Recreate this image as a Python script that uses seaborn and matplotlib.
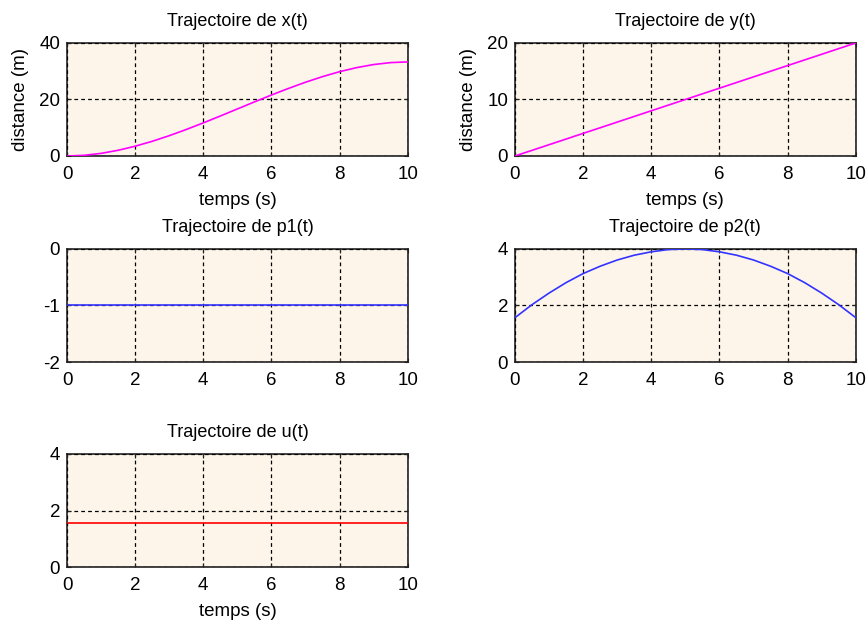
import matplotlib
matplotlib.use("Agg")
import matplotlib.pyplot as plt
import seaborn as sns
import pandas as pd

# Time samples (s)
t = [0.0, 0.5, 1.0, 1.5, 2.0, 2.5, 3.0, 3.5, 4.0, 4.5, 5.0,
     5.5, 6.0, 6.5, 7.0, 7.5, 8.0, 8.5, 9.0, 9.5, 10.0]

# State x(t) in metres
x_vals = [0.0, 0.24, 0.93, 2.02, 3.46, 5.20, 7.19, 9.38, 11.72, 14.16, 16.65,
          19.14, 21.58, 23.92, 26.11, 28.10, 29.84, 31.28, 32.37, 33.06, 33.30]
# State y(t) in metres
y_vals = [0.0, 1.0, 2.0, 3.0, 4.0, 5.0, 6.0, 7.0, 8.0, 9.0, 10.0,
          11.0, 12.0, 13.0, 14.0, 15.0, 16.0, 17.0, 18.0, 19.0, 20.0]
# Adjoint states
p1_vals = [-1.0] * 21
p2_vals = [1.57, 2.03, 2.44, 2.81, 3.13, 3.39, 3.61, 3.78, 3.90, 3.98, 4.00,
           3.98, 3.90, 3.78, 3.61, 3.39, 3.13, 2.81, 2.44, 2.03, 1.57]
# Control
u_vals = [1.57] * 21

titles = ["Trajectoire de x(t)", "Trajectoire de y(t)", "Trajectoire de p1(t)",
          "Trajectoire de p2(t)", "Trajectoire de u(t)"]
xticks = [0, 2, 4, 6, 8, 10]

sns.set_theme(style="ticks")
plt.rcParams["font.family"] = ["Liberation Sans", "DejaVu Sans"]
plt.rcParams["font.size"] = 13
plt.rcParams["axes.unicode_minus"] = False
plt.rcParams["text.color"] = "black"
plt.rcParams["axes.labelcolor"] = "black"

fig = plt.figure(figsize=(8.67, 6.22), dpi=100)
fig.patch.set_facecolor("white")

W = 0.393
H = 0.1817
positions = [
    (0.0773, 0.7492), (0.5940, 0.7492),
    (0.0773, 0.4180), (0.5940, 0.4180),
    (0.0773, 0.0884),
]

panels = [
    (x_vals, "#FF00FF", (0, 40), [0, 20, 40], True, True),
    (y_vals, "#FF00FF", (0, 20), [0, 10, 20], True, True),
    (p1_vals, "#3333FF", (-2, 0), [-2, -1, 0], False, False),
    (p2_vals, "#3333FF", (0, 4), [0, 2, 4], False, False),
    (u_vals, "#FF0000", (0, 4), [0, 2, 4], True, False),
]

for (pos, title, (vals, color, ylim, yt, xlab, ylab)) in zip(positions, titles, panels):
    ax = fig.add_axes([pos[0], pos[1], W, H])
    ax.set_facecolor("#FDF5E9")
    df = pd.DataFrame({"t": t, "v": vals})
    sns.lineplot(data=df, x="t", y="v", ax=ax, color=color, linewidth=1.2)
    for l in ax.get_lines():
        l.set_zorder(3)
    ax.set_xlim(0, 10)
    ax.set_ylim(*ylim)
    ax.set_xticks(xticks)
    ax.set_yticks(yt)
    ax.grid(True, color="black", linestyle=(0, (3, 2.5)), linewidth=0.9)
    ax.set_axisbelow(False)
    for s in ax.spines.values():
        s.set_color("#222222")
        s.set_linewidth(1.2)
        s.set_zorder(2.5)
    ax.tick_params(axis="both", direction="in", length=3, width=0.8, labelsize=13.5,
                   colors="#222222", labelcolor="black", top=True, right=True)
    ax.tick_params(axis="x", pad=7)
    ax.tick_params(axis="y", pad=5)
    ax.set_title(title, fontsize=13, pad=12, color="black")
    ax.set_xlabel("temps (s)" if xlab else "", fontsize=13.5, labelpad=7)
    ax.set_ylabel("distance (m)" if ylab else "", fontsize=13.5, labelpad=7)

fig.savefig("out.png", dpi=100, facecolor="white")
